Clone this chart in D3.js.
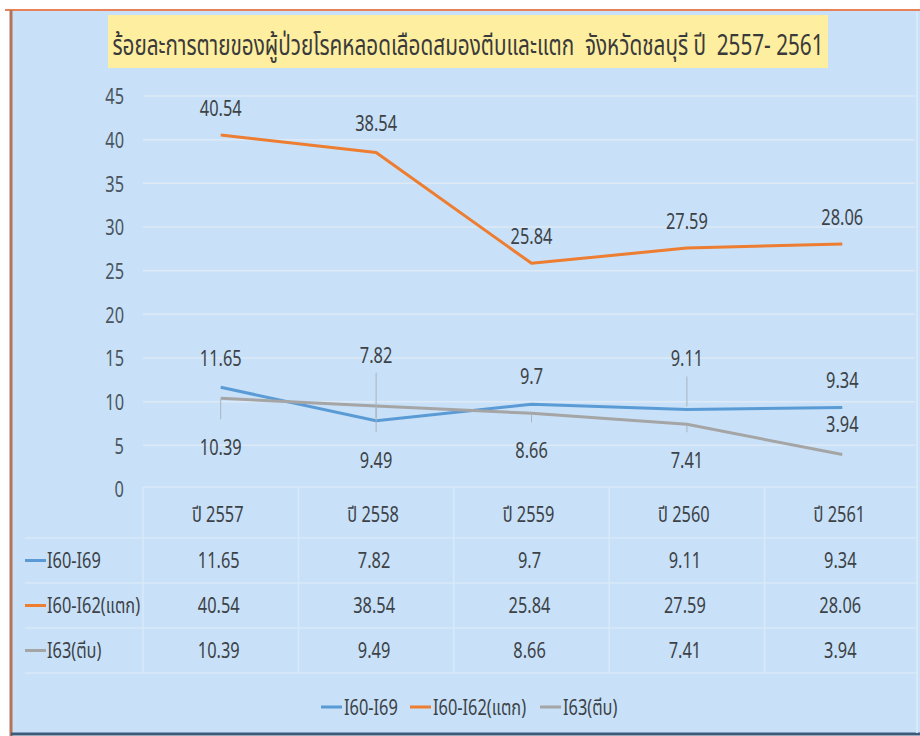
<!DOCTYPE html>
<html>
<head>
<meta charset="utf-8">
<script src="https://cdn.jsdelivr.net/npm/d3@7"></script>
<style>
  body { margin: 0; background: #fff; }
  svg text { font-family: "Noto Sans", "Noto Sans Thai", sans-serif; fill: #3d4247; }
</style>
</head>
<body>
<svg id="chart" width="920" height="736"></svg>
<script>
const years = ["ปี 2557", "ปี 2558", "ปี 2559", "ปี 2560", "ปี 2561"];
const seriesNames = ["I60-I69", "I60-I62(แตก)", "I63(ตีบ)"];
const valsI60I69 = [11.65, 7.82, 9.7, 9.11, 9.34];
const valsI60I62 = [40.54, 38.54, 25.84, 27.59, 28.06];
const valsI63 = [10.39, 9.49, 8.66, 7.41, 3.94];
const yTicks = [0, 5, 10, 15, 20, 25, 30, 35, 40, 45];
const titleText = "ร้อยละการตายของผู้ป่วยโรคหลอดเลือดสมองตีบและแตก  จังหวัดชลบุรี ปี  2557- 2561";

const colors = ["#5b9bd5", "#ed7d31", "#a5a5a5"];
// label offsets in px from the point (styling only)
const labelDy = [
    [-29, -66, -28, -51, -27],
    [-27, -29, -27, -27, -27],
    [49, 54, 37, 36, -30]
];
const SX = 0.78;     // fake condensed font

const series = seriesNames.map((name, i) => ({
    name: name,
    values: [valsI60I69, valsI60I62, valsI63][i],
    color: colors[i],
    dy: labelDy[i]
}));

const svg = d3.select("#chart");

function label(g, px, py, txt, anchor, size) {
    return g.append("text")
        .attr("transform", `translate(${px},${py}) scale(${SX},1)`)
        .attr("text-anchor", anchor || "middle")
        .attr("dominant-baseline", "central")
        .style("font-size", (size || 21) + "px")
        .text(txt);
}

// frame
svg.append("rect").attr("x", 11).attr("y", 10).attr("width", 909).attr("height", 724).attr("fill", "#c8e1f8");
svg.append("line").attr("x1", 5).attr("x2", 920).attr("y1", 10).attr("y2", 10).attr("stroke", "#e8825a").attr("stroke-width", 2);
svg.append("line").attr("x1", 11).attr("x2", 11).attr("y1", 10).attr("y2", 736).attr("stroke", "#b5735a").attr("stroke-width", 3);
svg.append("line").attr("x1", 11).attr("x2", 920).attr("y1", 734).attr("y2", 734).attr("stroke", "#3c5a7a").attr("stroke-width", 3);
svg.append("line").attr("x1", 917).attr("x2", 917).attr("y1", 12).attr("y2", 733).attr("stroke", "#d8eaf9").attr("stroke-width", 2);

// title
svg.append("rect").attr("x", 108).attr("y", 15).attr("width", 720).attr("height", 53).attr("fill", "#fdeea0");
svg.append("text")
    .attr("transform", "translate(468,43) scale(0.715,1)")
    .attr("text-anchor", "middle")
    .attr("dominant-baseline", "central")
    .style("white-space", "pre")
    .style("font-size", "29px").style("fill", "#3a3a3a")
    .text(titleText);

const x = d3.scaleBand().domain(years).range([143, 920]);
const y = d3.scaleLinear().domain([0, 45]).range([489, 96]);
const cx = i => x(years[i]) + x.bandwidth() / 2;

// grid
svg.append("g").selectAll("line").data(yTicks.filter(d => d > 0)).join("line")
    .attr("x1", 143).attr("x2", 915)
    .attr("y1", d => y(d)).attr("y2", d => y(d))
    .attr("stroke", "#dde9f4").attr("stroke-width", 1.5);

// y axis
const yAxis = d3.axisLeft(y).tickValues(yTicks).tickSize(0).tickPadding(0);
const ya = svg.append("g").attr("transform", "translate(124,0)").call(yAxis);
ya.select(".domain").remove();
ya.selectAll("text")
    .attr("x", null).attr("dy", null)
    .attr("dominant-baseline", "central")
    .attr("transform", `scale(${SX},1)`)
    .style("font-size", "21px").style("font-family", null).style("fill", "#4a5560");

// table grid
const tableTop = 487, headerH = 51, rowH = 45;
const rowY = i => tableTop + headerH + i * rowH;
const tg = svg.append("g").attr("stroke", "#d9e9f8").attr("stroke-width", 1.5);
tg.append("line").attr("x1", 143).attr("x2", 918).attr("y1", tableTop).attr("y2", tableTop);
[0, 1, 2, 3].forEach(i => {
    tg.append("line").attr("x1", 25).attr("x2", 918).attr("y1", rowY(i)).attr("y2", rowY(i));
});
years.forEach(yr => {
    tg.append("line").attr("x1", x(yr)).attr("x2", x(yr)).attr("y1", tableTop).attr("y2", rowY(3));
});

// header
const hg = svg.append("g");
years.forEach((yr, i) => label(hg, cx(i) - 3, tableTop + headerH / 2 + 2, yr));

// rows
series.forEach((s, si) => {
    const cy = rowY(si) + rowH / 2;
    const g = svg.append("g");
    g.append("line").attr("x1", 25).attr("x2", 46).attr("y1", cy).attr("y2", cy)
        .attr("stroke", s.color).attr("stroke-width", 3);
    label(g, 47, cy, s.name, "start");
    s.values.forEach((v, i) => label(g, cx(i) - 2, cy, v));
});

// lines
const line = d3.line().x((d, i) => cx(i)).y(d => y(d));
series.forEach(s => {
    svg.append("path").datum(s.values)
        .attr("fill", "none").attr("stroke", s.color)
        .attr("stroke-width", 3).attr("stroke-linejoin", "round")
        .attr("d", line);
});

// data labels + leader lines
const lg = svg.append("g");
series.forEach(s => {
    s.values.forEach((v, i) => {
        const px = cx(i), py = y(v), ly = py + s.dy[i];
        if (Math.abs(s.dy[i]) > 33) {
            const y1 = s.dy[i] < 0 ? ly + 18 : py + 1;
            const y2 = s.dy[i] < 0 ? py - 3 : ly - 28;
            lg.append("line").attr("x1", px).attr("x2", px).attr("y1", y1).attr("y2", y2)
                .attr("stroke", "#a9b4bd").attr("stroke-width", 1);
        }
        label(lg, px, ly, v);
    });
});

// legend
const legend = svg.append("g");
const legendX = [321, 410, 540];
series.forEach((s, i) => {
    legend.append("line").attr("x1", legendX[i]).attr("x2", legendX[i] + 21)
        .attr("y1", 707).attr("y2", 707).attr("stroke", s.color).attr("stroke-width", 3);
    label(legend, legendX[i] + 23, 707, s.name, "start");
});
</script>
</body>
</html>
